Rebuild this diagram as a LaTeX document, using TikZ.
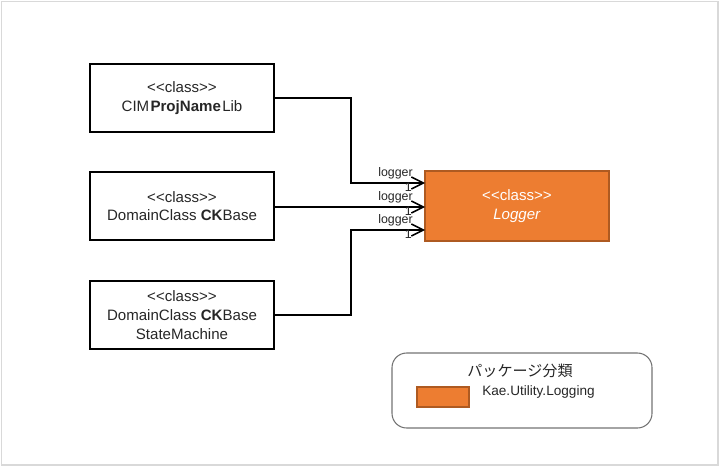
\documentclass[tikz,border=0pt]{standalone}
\usepackage{fontspec}
\setmainfont{Liberation Sans}
\newfontfamily\cjk{Noto Sans CJK JP}
\usetikzlibrary{arrows.meta}
\definecolor{orng}{HTML}{ED7D31}
\definecolor{orngdk}{HTML}{AE5A21}
\definecolor{frame}{HTML}{D9D9D9}
\definecolor{txt}{HTML}{262626}
\tikzset{
  classbox/.style={draw=black, line width=1.2pt, minimum width=184*0.75pt, minimum height=68*0.75pt, inner sep=0pt, align=center, font=\fontsize{11.3}{14}\selectfont, text=txt},
  loggerbox/.style={draw=orngdk, fill=orng, line width=0.9pt, minimum width=184*0.75pt, minimum height=70*0.75pt, inner sep=0pt, align=center, font=\fontsize{11.3}{14}\selectfont, text=white},
  conn/.style={draw=black, line width=1.1pt, -{Straight Barb[length=9pt, width=9pt, line width=1.1pt]}},
  rolelbl/.style={font=\fontsize{9.3}{10}\selectfont, text=txt, inner sep=0pt},
}
\begin{document}
\begin{tikzpicture}[x=0.75pt, y=-0.75pt]
\useasboundingbox (0,0) rectangle (720,467);
\draw[frame, line width=1.2pt] (1.5,1.5) rectangle (718,465);

\node[classbox] (a) at (182,98) {<{}<class>{}>\\CIM\hspace{1pt}\textbf{ProjName}\hspace{1pt}Lib};
\node[classbox] (b) at (182,206) {<{}<class>{}>\\DomainClass \textbf{CK}Base};
\node[classbox] (c) at (182,315) {<{}<class>{}>\\DomainClass \textbf{CK}Base\\StateMachine};
\node[loggerbox] (l) at (517,206) {<{}<class>{}>\\\textit{Logger}};

\coordinate (la) at (425,183);
\coordinate (lb) at (425,207);
\coordinate (lc) at (425,230);
\coordinate (ka) at (351,98);
\coordinate (kc) at (351,315);

\draw[conn] (a.east |- ka) -- (ka) |- (la);
\draw[conn] (b.east |- lb) -- (lb);
\draw[conn] (c.east |- kc) -- (kc) |- (lc);

\node[rolelbl, anchor=base east] (ra) at (413,176.5) {logger};
\node[rolelbl, anchor=base east] (rb) at (413,200.5) {logger};
\node[rolelbl, anchor=base east] (rc) at (413,223.5) {logger};
\node[rolelbl, anchor=base east] (na) at (412,191) {1};
\node[rolelbl, anchor=base east] (nb) at (412,215) {1};
\node[rolelbl, anchor=base east] (nc) at (412,238) {1};

\draw[draw=gray!90!black, line width=0.8pt, rounded corners=11pt] (392,353) rectangle (652,428);
\node[font=\cjk\fontsize{11.3}{13}\selectfont, text=txt] (lt) at (520,371) {パッケージ分類};
\node[draw=orngdk, fill=orng, line width=0.9pt, minimum width=52*0.75pt, minimum height=20*0.75pt, inner sep=0pt] (sw) at (443,397) {};
\node[font=\fontsize{10.2}{12}\selectfont, text=txt, anchor=west, inner sep=0pt] (lk) at (482,392) {Kae.Utility.Logging};
\end{tikzpicture}
\end{document}
